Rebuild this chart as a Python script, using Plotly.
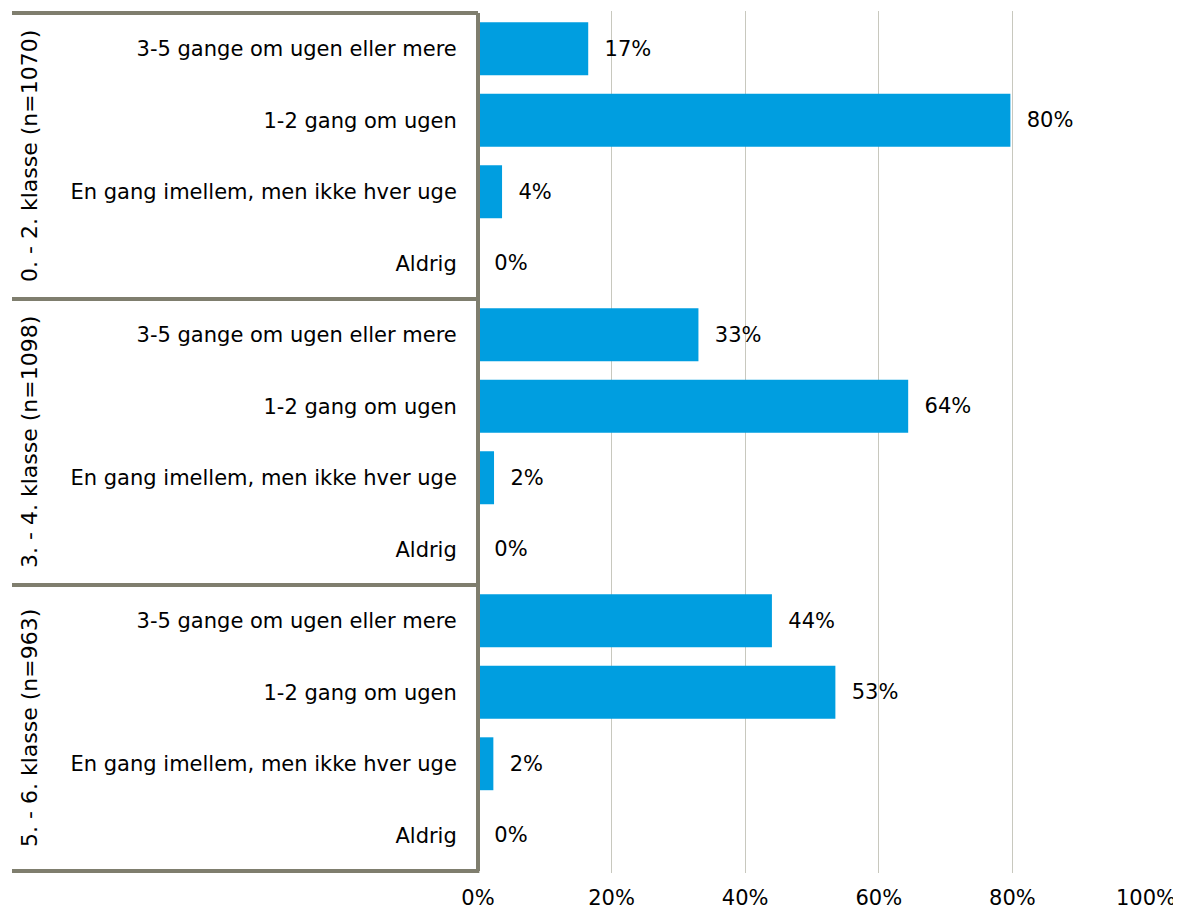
import plotly.graph_objects as go

groups = ["0. - 2. klasse (n=1070)", "3. - 4. klasse (n=1098)", "5. - 6. klasse (n=963)"]
items = ["3-5 gange om ugen eller mere", "1-2 gang om ugen",
         "En gang imellem, men ikke hver uge", "Aldrig"]
values_g1 = [16.5, 79.7, 3.6, 0.0]
values_g2 = [33.0, 64.4, 2.4, 0.0]
values_g3 = [44.0, 53.5, 2.3, 0.0]
labels_g1 = ["17%", "80%", "4%", "0%"]
labels_g2 = ["33%", "64%", "2%", "0%"]
labels_g3 = ["44%", "53%", "2%", "0%"]
x_ticks = [0, 20, 40, 60, 80, 100]
x_ticktext = ["0%", "20%", "40%", "60%", "80%", "100%"]

all_vals = values_g1 + values_g2 + values_g3
all_labels = labels_g1 + labels_g2 + labels_g3
keys = [f"{g}|{it}" for g in groups for it in items]
ticktext = [it for g in groups for it in items]

FONT = "DejaVu Sans"
FS = 21
BORDER = "#7f7e6e"

# page body has an 8px default margin; compensate in figure size
W, H = 1173, 905
L, R, T, B = 470, 35, 3, 38
PW = W - L - R

fig = go.Figure()
fig.add_trace(go.Bar(
    x=all_vals, y=keys, orientation="h",
    marker=dict(color="#009ee0", line=dict(width=0)),
    text=["\u00a0\u00a0" + t for t in all_labels],
    textposition="outside", cliponaxis=False,
    textfont=dict(family=FONT, size=FS, color="#000000"),
    hoverinfo="skip",
))

fig.update_layout(
    width=W, height=H,
    margin=dict(l=L, r=R, t=T, b=B),
    paper_bgcolor="white", plot_bgcolor="white",
    bargap=0.26, showlegend=False,
    font=dict(family=FONT, size=FS, color="#000000"),
)
fig.update_xaxes(
    range=[0, 100], tickvals=x_ticks, ticktext=x_ticktext,
    showgrid=True, gridcolor="#c8c8be", gridwidth=1,
    zeroline=False, showline=False, ticks="outside", ticklen=6,
    tickcolor="rgba(0,0,0,0)", tickfont=dict(family=FONT, size=FS),
)
fig.update_yaxes(
    categoryorder="array", categoryarray=keys,
    tickvals=keys, ticktext=ticktext, autorange="reversed",
    showgrid=False, zeroline=False, showline=False,
    ticks="outside", ticklen=16, tickcolor="rgba(0,0,0,0)",
    tickfont=dict(family=FONT, size=FS),
)

n = len(items)
x_left = (4 - L) / PW
x_lab = (21 - L) / PW
for gi, g in enumerate(groups):
    top = gi * n - 0.5
    bot = gi * n + n - 0.5
    fig.add_annotation(
        x=x_lab, xref="paper", xanchor="center",
        y=(top + bot) / 2, yref="y", yanchor="middle",
        text=g, textangle=-90, showarrow=False,
        font=dict(family=FONT, size=22, color="#000000"),
    )
    fig.add_shape(type="line", xref="paper", yref="y",
                  x0=x_left, x1=0, y0=top, y1=top,
                  line=dict(color=BORDER, width=4), layer="above")
fig.add_shape(type="line", xref="paper", yref="y",
              x0=x_left, x1=0.002, y0=len(keys) - 0.5, y1=len(keys) - 0.5,
              line=dict(color=BORDER, width=4), layer="above")
fig.add_shape(type="line", xref="paper", yref="y",
              x0=0, x1=0, y0=-0.5, y1=len(keys) - 0.5,
              line=dict(color=BORDER, width=4), layer="above")

fig.write_html("out.html")
